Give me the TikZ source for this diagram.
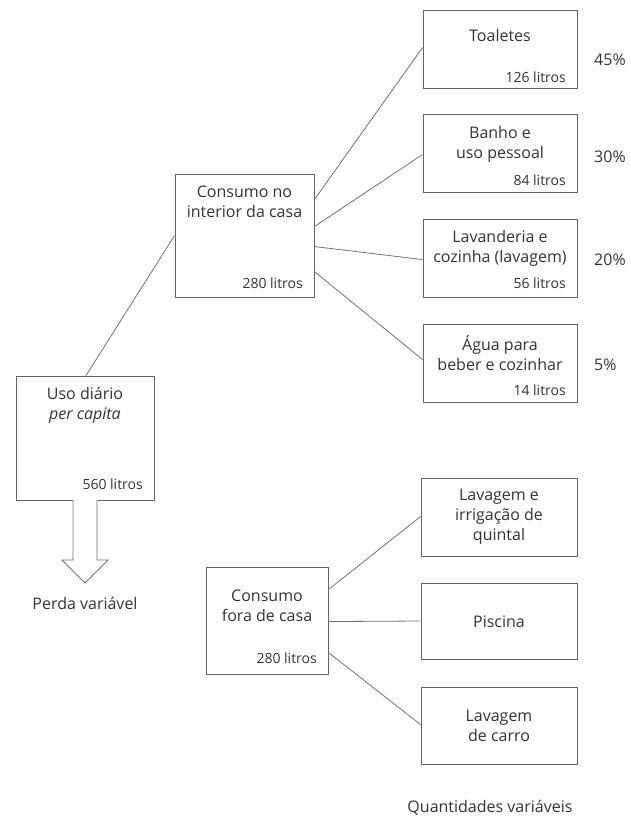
\documentclass[tikz,border=0pt]{standalone}
\usepackage{fontspec}
\setmainfont{Open Sans}
\begin{document}
\begin{tikzpicture}[x=1pt,y=-1pt,
  box/.style={draw=black!60, line width=0.9pt, minimum width=#1, inner sep=0pt},
  ttl/.style={text=black!80, font=\fontsize{16}{20}\selectfont, align=center, inner sep=0pt, anchor=center},
  lit/.style={text=black!80, font=\fontsize{14}{17}\selectfont, inner sep=0pt, anchor=east},
  pct/.style={text=black!80, font=\fontsize{16}{19}\selectfont, inner sep=0pt, anchor=west},
  conn/.style={draw=black!55, line width=0.8pt}]
\useasboundingbox (0,0) rectangle (631,817);
% boxes
\node[box=138pt, minimum height=124pt] (uso) at (85,438) {};
\node[box=139pt, minimum height=123pt] (int) at (244.5,235.5) {};
\node[box=154pt, minimum height=78pt] (toa) at (500,49) {};
\node[box=154pt, minimum height=78pt] (ban) at (500,153) {};
\node[box=154pt, minimum height=78pt] (lav) at (500,258) {};
\node[box=154pt, minimum height=78pt] (agu) at (500,363) {};
\node[box=122pt, minimum height=107pt] (fora) at (267,620.5) {};
\node[box=156pt, minimum height=78pt] (irr) at (499,517) {};
\node[box=156pt, minimum height=76pt] (pis) at (499,621) {};
\node[box=156pt, minimum height=77pt] (car) at (499,725.5) {};
% texts
\node[ttl] (usot) at (85,405) {Uso diário\\\textit{per capita}};
\node[lit] (usol) at (143,484) {560 litros};
\node[ttl] (intt) at (244.5,202) {Consumo no\\interior da casa};
\node[lit] (intl) at (303,283) {280 litros};
\node[ttl] (toat) at (500,35) {Toaletes};
\node[lit] (toal) at (566,77) {126 litros};
\node[ttl] (bant) at (500,144.5) {Banho e\\uso pessoal};
\node[lit] (banl) at (566,180) {84 litros};
\node[ttl] (lavt) at (500,248) {Lavanderia e\\cozinha (lavagem)};
\node[lit] (lavl) at (566,283) {56 litros};
\node[ttl] (agut) at (500,353) {Água para\\beber e cozinhar};
\node[lit] (agul) at (566,390) {14 litros};
\node[ttl] (forat) at (267,606) {Consumo\\fora de casa};
\node[lit] (foral) at (317,658) {280 litros};
\node[ttl] (irrt) at (499,517) {Lavagem e\\irrigação de\\quintal};
\node[ttl] (pist) at (499,622) {Piscina};
\node[ttl] (cart) at (499,726) {Lavagem\\de carro};
\node[pct] (p45) at (594,60) {45\%};
\node[pct] (p30) at (594,157) {30\%};
\node[pct] (p20) at (594,260) {20\%};
\node[pct] (p5) at (594,365) {5\%};
\node[ttl] (perda) at (85,603) {Perda variável};
\node[ttl] (quant) at (490,808) {Quantidades variáveis};
% connectors
\draw[conn] ([xshift=1pt]uso.north) -- ([yshift=-62pt]int.north west);
\draw[conn] ([yshift=-26pt]int.north east) -- ([yshift=-38pt]toa.north west);
\draw[conn] ([yshift=-53pt]int.north east) -- ([yshift=-41pt]ban.north west);
\draw[conn] ([yshift=-73pt]int.north east) -- ([yshift=-41pt]lav.north west);
\draw[conn] ([yshift=-98pt]int.north east) -- ([yshift=-36pt]agu.north west);
\draw[conn] ([yshift=-23pt]fora.north east) -- ([yshift=-39pt]irr.north west);
\draw[conn] ([yshift=-55pt]fora.north east) -- (pis.west);
\draw[conn] ([yshift=-86pt]fora.north east) -- ([yshift=-38pt]car.north west);
% hollow arrow
\draw[draw=black!55, line width=0.8pt, fill=white]
  (73,500) -- (73,560) -- (62,560) -- (85,583) -- (108,560) -- (97,560) -- (97,500);
\end{tikzpicture}
\end{document}
